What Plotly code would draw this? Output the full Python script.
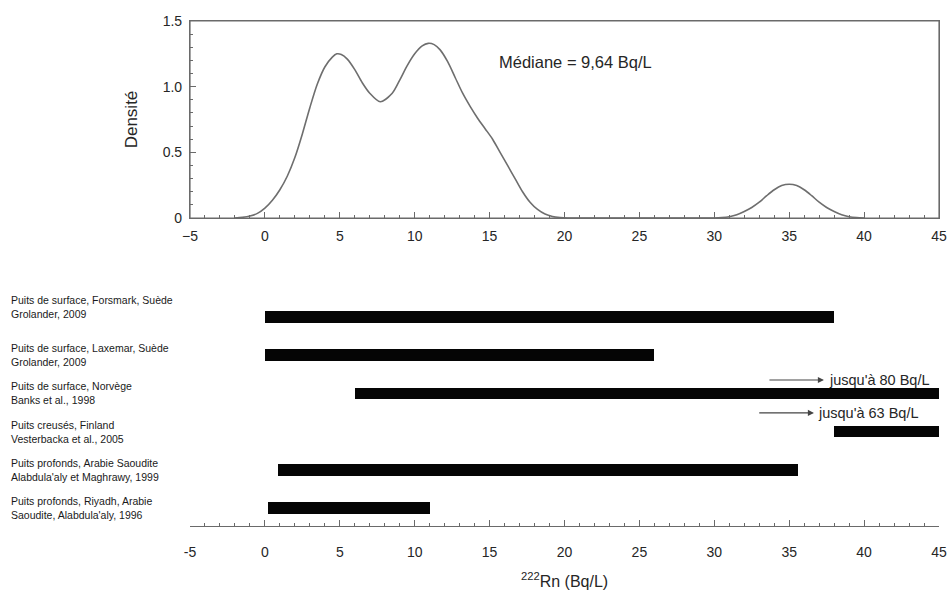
import plotly.graph_objects as go

# ---- Data ----
density_x = [-2, -1.5, -1, -0.5, 0, 0.5, 1, 1.5, 2, 2.5, 3, 3.5, 4, 4.5, 4.8, 5.1, 5.5, 6, 6.5, 7, 7.7,
             8.5, 9, 9.5, 10, 10.5, 10.9, 11.3, 11.7, 12.2, 12.7, 13.2, 13.7, 14.2, 14.7, 15.2, 15.7, 16.2,
             16.7, 17.2, 17.7, 18.2, 18.7, 19.2, 19.7, 20.2, 21, 25, 30, 30.5, 31, 31.5, 32, 32.5, 33,
             33.5, 34, 34.5, 35, 35.5, 36, 36.5, 37, 37.5, 38, 38.5, 39, 39.5, 40]
density_y = [0.0, 0.005, 0.015, 0.035, 0.075, 0.135, 0.215, 0.32, 0.46, 0.64, 0.84, 1.02, 1.15, 1.225, 1.25,
             1.245, 1.21, 1.13, 1.03, 0.95, 0.885, 0.95, 1.05, 1.16, 1.25, 1.31, 1.33, 1.32, 1.28, 1.19,
             1.07, 0.95, 0.85, 0.76, 0.68, 0.6, 0.5, 0.4, 0.3, 0.2, 0.12, 0.065, 0.03, 0.012, 0.004, 0.0,
             0.0, 0.0, 0.0, 0.003, 0.01, 0.025, 0.05, 0.08, 0.12, 0.17, 0.215, 0.247, 0.257, 0.247, 0.215,
             0.17, 0.12, 0.08, 0.05, 0.025, 0.01, 0.003, 0.0]

study_labels = [
    "Puits de surface, Forsmark, Suède<br>Grolander, 2009",
    "Puits de surface, Laxemar, Suède<br>Grolander, 2009",
    "Puits de surface, Norvège<br>Banks et al., 1998",
    "Puits creusés, Finland<br>Vesterbacka et al., 2005",
    "Puits profonds, Arabie Saoudite<br>Alabdula'aly et Maghrawy, 1999",
    "Puits profonds, Riyadh, Arabie<br>Saoudite, Alabdula'aly, 1996",
]
range_min = [0, 0, 6, 38, 0.9, 0.2]
range_max = [38, 26, 80, 63, 35.6, 11]
row_pos = [6, 5, 4, 3, 2, 1]

x_tickvals = [-5, 0, 5, 10, 15, 20, 25, 30, 35, 40, 45]
x_ticktext_top = ["\u22125", "0", "5", "10", "15", "20", "25", "30", "35", "40", "45"]
x_ticktext_bottom = ["-5", "0", "5", "10", "15", "20", "25", "30", "35", "40", "45"]
y_tickvals = [0, 0.5, 1.0, 1.5]
y_ticktext = ["0", "0.5", "1.0", "1.5"]

median_text = "Médiane = 9,64 Bq/L"
upto_texts = ["jusqu'à 80 Bq/L", "jusqu'à 63 Bq/L"]

FONT = "Liberation Sans, Arial, sans-serif"
TXT = "#262626"
AX = "#6a6a6a"

fig = go.Figure()

fig.add_trace(go.Scatter(
    x=density_x, y=density_y, mode="lines",
    line=dict(color="#6e6e6e", width=1.6, shape="spline", smoothing=0.8),
    xaxis="x", yaxis="y", showlegend=False, hoverinfo="skip"))

fig.add_trace(go.Bar(
    x=[mx - mn for mn, mx in zip(range_min, range_max)], base=range_min, y=row_pos,
    orientation="h", width=0.3, marker=dict(color="#050505", line=dict(width=0)),
    xaxis="x2", yaxis="y2", showlegend=False, hoverinfo="skip"))

W, H = 948, 591
ml, mr, mt, mb = 190, 9, 21, 65
ph = H - mt - mb
pw = W - ml - mr
top_dom = [(526 - 218) / ph, 1.0]
bot_dom = [0.0, (526 - 290) / ph]

common_x = dict(range=[-5, 45], tickmode="array", tickvals=x_tickvals, ticks="inside", ticklen=6,
                tickcolor=AX, tickwidth=1, showgrid=False, zeroline=False, showline=True,
                linecolor=AX, linewidth=1.2, tickfont=dict(family=FONT, size=14, color=TXT),
                automargin=False,
                minor=dict(tickmode="linear", tick0=0, dtick=1, ticks="inside", ticklen=3,
                           tickcolor=AX, showgrid=False))

fig.update_layout(
    template="none",
    width=W, height=H, autosize=False, margin=dict(l=ml, r=mr, t=mt, b=mb, pad=0),
    paper_bgcolor="white", plot_bgcolor="white",
    font=dict(family=FONT, color=TXT),
    bargap=0,
    xaxis=dict(**common_x, ticktext=x_ticktext_top, anchor="y", domain=[0, 1],
               mirror=True, ticklabelstandoff=5),
    yaxis=dict(range=[0, 1.5], tickmode="array", tickvals=y_tickvals, ticktext=y_ticktext,
               ticks="inside", ticklen=6, tickcolor=AX, showgrid=False, zeroline=False,
               showline=True, linecolor=AX, linewidth=1.2, mirror=True, anchor="x", domain=top_dom,
               tickfont=dict(family=FONT, size=14, color=TXT), ticklabelstandoff=4, automargin=False,
               minor=dict(tickmode="linear", tick0=0, dtick=0.1, ticks="inside", ticklen=3,
                          tickcolor=AX, showgrid=False),
               title=dict(text="Densité", font=dict(family=FONT, size=17, color=TXT), standoff=20)),
    xaxis2=dict(**common_x, ticktext=x_ticktext_bottom, anchor="y2", domain=[0, 1],
                ticklabelstandoff=13),
    yaxis2=dict(range=[1 - 18 / 38.2, 6 + 27 / 38.2], domain=bot_dom, anchor="x2",
                visible=False, showgrid=False, zeroline=False, automargin=False),
)

# frame around the density panel
fig.add_shape(type="rect", xref="paper", yref="paper", x0=0, x1=1, y0=top_dom[0], y1=1,
              line=dict(color=AX, width=1.2), fillcolor="rgba(0,0,0,0)", layer="above")

annotations = [
    dict(text=median_text, x=20.76, y=1.19, xref="x", yref="y", showarrow=False,
         font=dict(family=FONT, size=16.5, color=TXT), xanchor="center", yanchor="middle"),
    dict(text="<sup>222</sup>Rn (Bq/L)", x=0.5, y=(526 - 580) / ph, xref="paper", yref="paper",
         showarrow=False, font=dict(family=FONT, size=16, color=TXT), xanchor="center", yanchor="middle"),
]
for i, (lab, r) in enumerate(zip(study_labels, row_pos)):
    annotations.append(dict(text=lab, x=(9 - ml) / pw, y=r, xref="paper", yref="y2",
                            showarrow=False, align="left", xanchor="left", yanchor="middle",
                            yshift=10 if i == 0 else 0,
                            font=dict(family=FONT, size=10.5, color="#1a1a1a")))

# "jusqu'à" notes with arrows
notes = [(upto_texts[0], 37.32, 33.58, 37.55, 4.35), (upto_texts[1], 36.65, 32.9, 36.8, 3.49)]
for txt, head_x, tail_x, text_x, yv in notes:
    annotations.append(dict(x=head_x, y=yv, ax=tail_x, ay=yv, xref="x2", yref="y2", axref="x2", ayref="y2",
                            text="", showarrow=True, arrowhead=2, arrowsize=1.1, arrowwidth=1.1,
                            arrowcolor="#444444"))
    annotations.append(dict(text=txt, x=text_x, y=yv, xref="x2", yref="y2", showarrow=False,
                            xanchor="left", yanchor="middle", font=dict(family=FONT, size=14.5, color=TXT)))

fig.update_layout(annotations=annotations)

fig.write_html("out.html")
